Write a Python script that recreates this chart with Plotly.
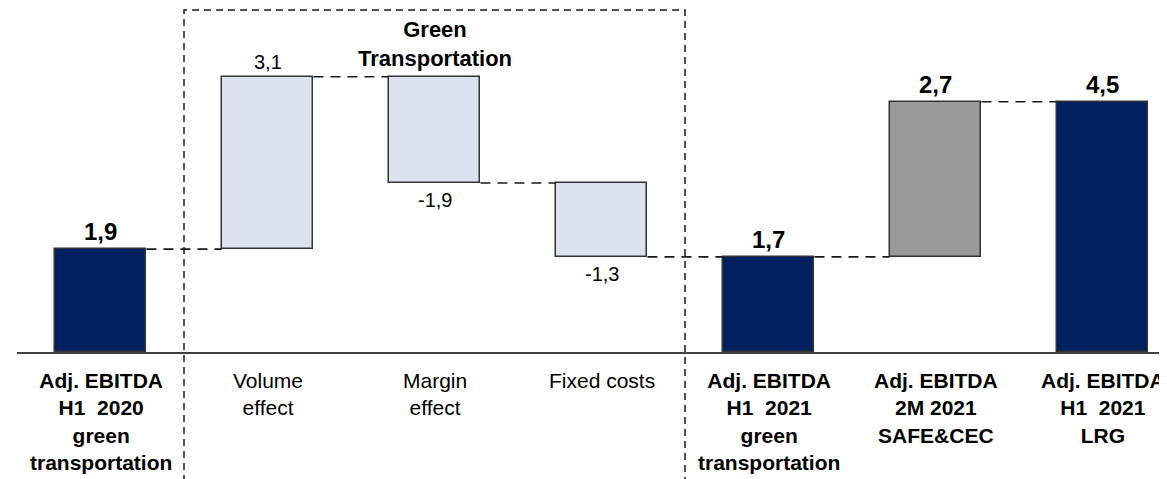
import plotly.graph_objects as go

# ---- data ----
categories = [
    "<b>Adj. EBITDA<br>H1  2020<br>green<br>transportation</b>",
    "Volume<br>effect",
    "Margin<br>effect",
    "Fixed costs",
    "<b>Adj. EBITDA<br>H1  2021<br>green<br>transportation</b>",
    "<b>Adj. EBITDA<br>2M 2021<br>SAFE&CEC</b>",
    "<b>Adj. EBITDA<br>H1  2021<br>LRG</b>",
]
measures = ["absolute", "relative", "relative", "relative", "total", "relative", "total"]
values = [1.85, 3.1, -1.91, -1.33, 1.71, 2.79, 4.5]
value_labels = ["1,9", "3,1", "-1,9", "-1,3", "1,7", "2,7", "4,5"]
label_bold = [True, False, False, False, True, True, True]
bar_colors = ["#002060", "#DCE3EE", "#DCE3EE", "#DCE3EE", "#002060", "#999999", "#002060"]

FONT = "Liberation Sans, Arial, sans-serif"

# ---- compute bases ----
bases, heights, ends = [], [], []
level = 0.0
for m, v in zip(measures, values):
    if m == "relative":
        bases.append(level)
        heights.append(v)
        level += v
    else:
        bases.append(0.0)
        heights.append(v)
        level = v
    ends.append(level)

x = list(range(len(categories)))
W = 0.55

fig = go.Figure()
fig.add_trace(go.Bar(
    x=x, y=heights, base=bases, width=W,
    marker=dict(color=bar_colors, line=dict(color="#333333", width=1.5)),
    hoverinfo="skip", showlegend=False,
))

# connectors
for i in range(len(x) - 1):
    lvl = ends[i]
    fig.add_trace(go.Scatter(
        x=[x[i] + W / 2, x[i + 1] - W / 2], y=[lvl, lvl], mode="lines",
        line=dict(color="#1a1a1a", width=1.6, dash="10px,7px"),
        hoverinfo="skip", showlegend=False,
    ))

annotations = []
for i, (b, h, lab, bold) in enumerate(zip(bases, heights, value_labels, label_bold)):
    top = b + max(h, 0)
    bottom = b + min(h, 0)
    if h >= 0:
        annotations.append(dict(
            x=x[i], y=top, xref="x", yref="y", yanchor="bottom", yshift=2,
            text=f"<b>{lab}</b>" if bold else lab, showarrow=False,
            font=dict(size=24 if bold else 20, color="#000000", family=FONT)))
    else:
        annotations.append(dict(
            x=x[i], y=bottom, xref="x", yref="y", yanchor="top", yshift=-4,
            text=lab, showarrow=False,
            font=dict(size=20, color="#000000", family=FONT)))

for i, c in enumerate(categories):
    annotations.append(dict(
        x=x[i], y=0, xref="x", yref="paper", yanchor="top", yshift=-15,
        text=c, showarrow=False, align="center",
        font=dict(size=21, color="#000000", family=FONT)))

annotations.append(dict(
    x=2, y=1, xref="x", yref="paper", yanchor="top", yshift=-5,
    text="<b>Green<br>Transportation</b>", showarrow=False, align="center",
    font=dict(size=22, color="#000000", family=FONT)))

fig.add_shape(type="rect", xref="x", yref="paper", x0=0.5, x1=3.5, y0=-0.5, y1=1,
              line=dict(color="#1a1a1a", width=1.5, dash="7px,5px"), fillcolor="rgba(0,0,0,0)",
              layer="above")

fig.update_layout(
    width=1167, height=479,
    margin=dict(l=9, r=0, t=2, b=135),
    plot_bgcolor="white", paper_bgcolor="white",
    xaxis=dict(range=[-0.5, 6.434], showticklabels=False, showgrid=False, zeroline=False,
               showline=True, linecolor="#404040", linewidth=2, ticks=""),
    yaxis=dict(range=[0, 6.15], visible=False),
    annotations=annotations,
    bargap=0,
)

fig.write_html("out.html")
